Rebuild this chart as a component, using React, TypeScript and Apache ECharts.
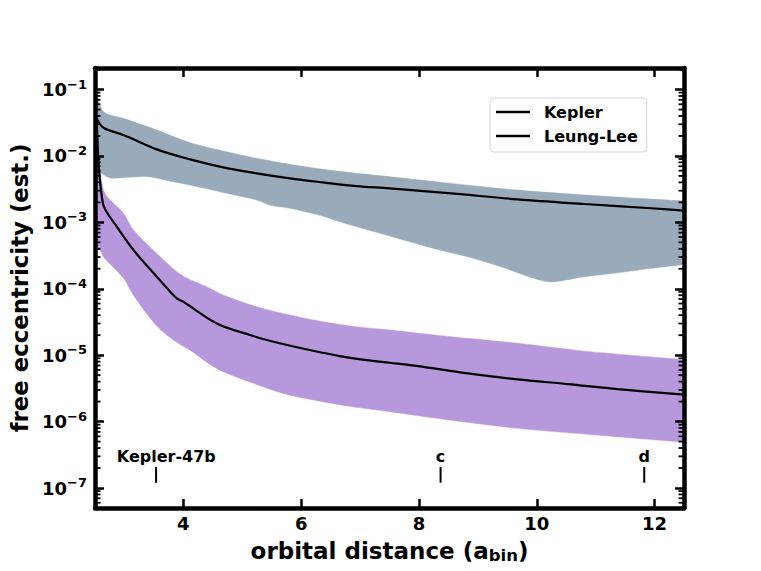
import React, { useEffect, useRef } from 'react';
import * as echarts from 'echarts';

// ---- axis ticks ----
const xTicks = [4, 6, 8, 10, 12];
const xMin = 2.5;
const xMax = 12.5;
const yMin = 5e-8;
const yMax = 0.211;

// ---- Kepler (grey) ----
const keplerX = [2.53, 2.644, 2.983, 3.549, 4.114, 4.678, 5.244, 5.808, 6.373, 6.939, 7.503, 8.549, 9.678, 10.808, 11.939, 12.5];
const keplerY = [0.0368, 0.0266, 0.0207, 0.01256, 0.00889, 0.00673, 0.00547, 0.0046, 0.0040, 0.00352, 0.00325, 0.00273, 0.00222, 0.00189, 0.00163, 0.0015];
const keplerUpperX = [2.53, 2.644, 2.983, 3.549, 4.114, 4.678, 5.244, 5.808, 6.373, 6.939, 7.503, 8.549, 9.678, 10.808, 11.939, 12.5];
const keplerUpperY = [0.09, 0.0464, 0.0368, 0.0245, 0.0158, 0.01186, 0.0092, 0.00747, 0.00628, 0.00547, 0.00486, 0.00386, 0.00306, 0.00258, 0.00224, 0.0021];
const keplerLowerX = [2.53, 2.61, 2.757, 2.949, 3.402, 3.831, 4.114, 4.736, 5.244, 5.469, 5.808, 6.373, 6.656, 7.503, 8.351, 8.83, 9.397, 9.961, 10.244, 10.808, 11.373, 11.939, 12.5];
const keplerLowerY = [0.00635, 0.00547, 0.00465, 0.0047, 0.00486, 0.00408, 0.00365, 0.00274, 0.00217, 0.00182, 0.00163, 0.00124, 0.00102, 0.000622, 0.000383, 0.000303, 0.000214, 0.000143, 0.000127, 0.000152, 0.000174, 0.000203, 0.000233];

// ---- Leung-Lee (purple) ----
const leungX = [2.53, 2.634, 2.871, 3.153, 3.549, 3.888, 4.0, 4.566, 5.131, 5.639, 6.203, 6.656, 7.108, 7.503, 7.983, 8.83, 9.678, 10.525, 11.373, 12.5];
const leungY = [0.0368, 0.00193, 0.00086, 0.000383, 0.000152, 7.17e-5, 6.37e-5, 3.01e-5, 2.01e-5, 1.51e-5, 1.165e-5, 9.69e-6, 8.43e-6, 7.69e-6, 6.86e-6, 5.32e-6, 4.32e-6, 3.67e-6, 3.08e-6, 2.55e-6];
const leungUpperX = [2.53, 2.644, 2.983, 3.153, 3.549, 3.944, 4.397, 4.678, 5.244, 5.808, 6.373, 6.939, 7.503, 8.549, 9.678, 10.808, 12.5];
const leungUpperY = [0.04, 0.00306, 0.00137, 0.000766, 0.000341, 0.000166, 0.000107, 8.03e-5, 5.36e-5, 4.02e-5, 3.18e-5, 2.68e-5, 2.39e-5, 1.89e-5, 1.51e-5, 1.15e-5, 8.6e-6];
const leungLowerX = [2.53, 2.588, 2.644, 2.983, 3.153, 3.549, 3.831, 4.114, 4.566, 5.131, 5.695, 6.373, 6.939, 7.503, 8.549, 9.678, 10.808, 12.5];
const leungLowerY = [0.0004, 0.000383, 0.0003, 0.000145, 8.0e-5, 2.74e-5, 1.69e-5, 1.19e-5, 6.32e-6, 3.94e-6, 2.66e-6, 1.99e-6, 1.64e-6, 1.41e-6, 1.05e-6, 7.91e-7, 6.49e-7, 4.9e-7];

// ---- planet markers ----
const planetNames = ['Kepler-47b', 'c', 'd'];
const planetX = [3.537, 8.367, 11.825];
const planetLabelX = [3.71, 8.367, 11.825];
const planetLabelY = 3.0e-7;
const planetTickTop = 2.08e-7;
const planetTickBottom = 1.2e-7;

const FONT = "'DejaVu Sans', sans-serif";
const GREY = '#99abbb';
const PURPLE = '#b898dc';

// smooth open curve through pixel points
function smoothSegs(pts: number[][], s: number, startWithMove: boolean): string {
  const n = pts.length;
  const f = (v: number) => v.toFixed(2);
  let d = (startWithMove ? 'M' : 'L') + f(pts[0][0]) + ',' + f(pts[0][1]);
  const cpIn: number[][] = [];
  const cpOut: number[][] = [];
  for (let i = 0; i < n; i++) {
    const p = pts[i];
    if (i === 0 || i === n - 1) {
      cpIn.push(p);
      cpOut.push(p);
      continue;
    }
    const a = pts[i - 1];
    const b = pts[i + 1];
    const tx = b[0] - a[0];
    const ty = b[1] - a[1];
    const d0 = Math.hypot(p[0] - a[0], p[1] - a[1]);
    const d1 = Math.hypot(b[0] - p[0], b[1] - p[1]);
    const sum = d0 + d1 || 1;
    cpIn.push([p[0] - tx * s * (d0 / sum), p[1] - ty * s * (d0 / sum)]);
    cpOut.push([p[0] + tx * s * (d1 / sum), p[1] + ty * s * (d1 / sum)]);
  }
  for (let i = 0; i < n - 1; i++) {
    const c1 = cpOut[i];
    const c2 = cpIn[i + 1];
    const q = pts[i + 1];
    d += 'C' + f(c1[0]) + ',' + f(c1[1]) + ' ' + f(c2[0]) + ',' + f(c2[1]) + ' ' + f(q[0]) + ',' + f(q[1]);
  }
  return d;
}

function bandSeries(name: string, ux: number[], uy: number[], lx: number[], ly: number[], color: string, z: number) {
  return {
    type: 'custom',
    name,
    z,
    silent: true,
    clip: true,
    coordinateSystem: 'cartesian2d',
    data: [[ux[0], uy[0]]],
    renderItem: (_p: any, api: any) => {
      const up: number[][] = [];
      const lo: number[][] = [];
      for (let i = 0; i < ux.length; i++) up.push(api.coord([ux[i], uy[i]]));
      for (let i = lx.length - 1; i >= 0; i--) lo.push(api.coord([lx[i], ly[i]]));
      const d = smoothSegs(up, 0.3, true) + smoothSegs(lo, 0.3, false) + 'Z';
      return {
        type: 'path',
        shape: { pathData: d },
        style: { fill: color, stroke: color, lineWidth: 0.5 },
      };
    },
  };
}

export default function App() {
  const ref = useRef<HTMLDivElement>(null);
  useEffect(() => {
    if (!ref.current) return;
    const chart = echarts.init(ref.current, undefined, { renderer: 'svg' });

    const minorVals: number[] = [];
    for (let e = -8; e <= -1; e++) {
      for (let m = 2; m <= 9; m++) {
        const v = m * Math.pow(10, e);
        if (v > yMin && v < yMax) minorVals.push(v);
      }
    }

    const tickLabel = {
      fontFamily: FONT,
      fontWeight: 'bold',
      fontSize: 18,
      color: '#000',
    };

    const yLabelFormatter = (v: number) => {
      const e = Math.round(Math.log10(v));
      return `{b|10}{s|\u2212${Math.abs(e)}}`;
    };

    const option: any = {
      animation: false,
      backgroundColor: '#fff',
      grid: { left: 95, top: 68, width: 589, height: 440, containLabel: false },
      legend: {
        left: 490,
        top: 98,
        orient: 'vertical',
        data: ['Kepler', 'Leung-Lee'],
        icon: 'rect',
        backgroundColor: '#fff',
        borderColor: '#d4d4d4',
        borderWidth: 1,
        borderRadius: 4,
        padding: [4, 9, 6, 6],
        itemWidth: 34,
        itemHeight: 2.4,
        itemGap: 4,
        itemStyle: { color: '#000', borderWidth: 0 },
        textStyle: { fontFamily: FONT, fontWeight: 'bold', fontSize: 16, color: '#000', lineHeight: 20, padding: [0, 0, 0, 9] },
      },
      xAxis: [
        {
          type: 'value',
          min: xMin,
          max: xMax,
          position: 'bottom',
          z: 10,
          axisLine: { show: true, lineStyle: { color: '#000', width: 4.5 } },
          axisTick: { show: true, inside: true, length: 9, lineStyle: { color: '#000', width: 2.5 }, customValues: xTicks },
          axisLabel: { ...tickLabel, margin: 6, customValues: xTicks },
          splitLine: { show: false },
          name: '{a|orbital distance (a}{s|bin}{a|)}',
          nameLocation: 'middle',
          nameGap: 30,
          nameTextStyle: {
            rich: {
              a: { fontFamily: FONT, fontWeight: 'bold', fontSize: 23, color: '#000' },
              s: { fontFamily: FONT, fontWeight: 'bold', fontSize: 16.5, color: '#000', padding: [9, 0, 0, 0] },
            },
          },
        },
        {
          type: 'value',
          min: xMin,
          max: xMax,
          position: 'top',
          z: 10,
          axisLine: { show: true, lineStyle: { color: '#000', width: 4.5 } },
          axisTick: { show: true, inside: true, length: 9, lineStyle: { color: '#000', width: 2.5 }, customValues: xTicks },
          axisLabel: { show: false },
          splitLine: { show: false },
        },
      ],
      yAxis: [
        {
          type: 'log',
          logBase: 10,
          min: yMin,
          max: yMax,
          splitNumber: 7,
          position: 'left',
          z: 10,
          axisLine: { show: true, lineStyle: { color: '#000', width: 4.5 } },
          axisTick: { show: true, inside: true, length: 9, lineStyle: { color: '#000', width: 2.5 } },
          axisLabel: {
            margin: 8,
            showMinLabel: false,
            showMaxLabel: false,
            formatter: yLabelFormatter,
            rich: {
              b: { ...tickLabel },
              s: { fontFamily: FONT, fontWeight: 'bold', fontSize: 13, color: '#000', padding: [0, 0, 11, 0] },
            },
          },
          splitLine: { show: false },
          name: 'free eccentricity (est.)',
          nameLocation: 'middle',
          nameGap: 62,
          nameTextStyle: { fontFamily: FONT, fontWeight: 'bold', fontSize: 22.8, color: '#000' },
        },
        {
          type: 'log',
          logBase: 10,
          min: yMin,
          max: yMax,
          splitNumber: 7,
          position: 'right',
          z: 10,
          axisLine: { show: true, lineStyle: { color: '#000', width: 4.5 } },
          axisTick: { show: true, inside: true, length: 9, lineStyle: { color: '#000', width: 2.5 } },
          axisLabel: { show: false },
          splitLine: { show: false },
        },
      ],
      series: [
        bandSeries('Kepler band', keplerUpperX, keplerUpperY, keplerLowerX, keplerLowerY, GREY, 1),
        bandSeries('Leung-Lee band', leungUpperX, leungUpperY, leungLowerX, leungLowerY, PURPLE, 2),
        {
          type: 'line',
          name: 'Kepler',
          z: 4,
          symbol: 'none',
          clip: true,
          smooth: 0.35,
          lineStyle: { color: '#000', width: 2.2 },
          itemStyle: { color: '#000' },
          data: keplerX.map((x, i) => [x, keplerY[i]]),
        },
        {
          type: 'line',
          name: 'Leung-Lee',
          z: 4,
          symbol: 'none',
          clip: true,
          smooth: 0.3,
          lineStyle: { color: '#000', width: 2.2 },
          itemStyle: { color: '#000' },
          data: leungX.map((x, i) => [x, leungY[i]]),
        },
        {
          type: 'custom',
          name: 'planets',
          z: 6,
          silent: true,
          clip: false,
          data: planetX.map((x, i) => [x, planetTickTop, i]),
          renderItem: (_p: any, api: any) => {
            const i = api.value(2);
            const top = api.coord([planetX[i], planetTickTop]);
            const bot = api.coord([planetX[i], planetTickBottom]);
            const lab = api.coord([planetLabelX[i], planetLabelY]);
            return {
              type: 'group',
              children: [
                { type: 'line', shape: { x1: top[0], y1: top[1], x2: bot[0], y2: bot[1] }, style: { stroke: '#000', lineWidth: 2 } },
                {
                  type: 'text',
                  x: lab[0],
                  y: lab[1],
                  style: { text: planetNames[i], fill: '#000', font: `bold 16px ${FONT}`, align: 'center', verticalAlign: 'middle' },
                },
              ],
            };
          },
        },
        {
          type: 'custom',
          name: 'minorTicks',
          z: 11,
          silent: true,
          clip: false,
          data: minorVals.map((v) => [xMin, v]),
          renderItem: (_p: any, api: any) => {
            const v = api.value(1);
            const a = api.coord([xMin, v]);
            const b = api.coord([xMax, v]);
            return {
              type: 'group',
              children: [
                { type: 'line', shape: { x1: a[0], y1: a[1], x2: a[0] + 5.5, y2: a[1] }, style: { stroke: '#000', lineWidth: 1.8 } },
                { type: 'line', shape: { x1: b[0], y1: b[1], x2: b[0] - 5.5, y2: b[1] }, style: { stroke: '#000', lineWidth: 1.8 } },
              ],
            };
          },
        },
      ],
    };
    chart.setOption(option);
    return () => chart.dispose();
  }, []);
  return <div ref={ref} style={{ position: 'fixed', left: 0, top: 0, width: 761, height: 571, background: '#fff' }} />;
}
